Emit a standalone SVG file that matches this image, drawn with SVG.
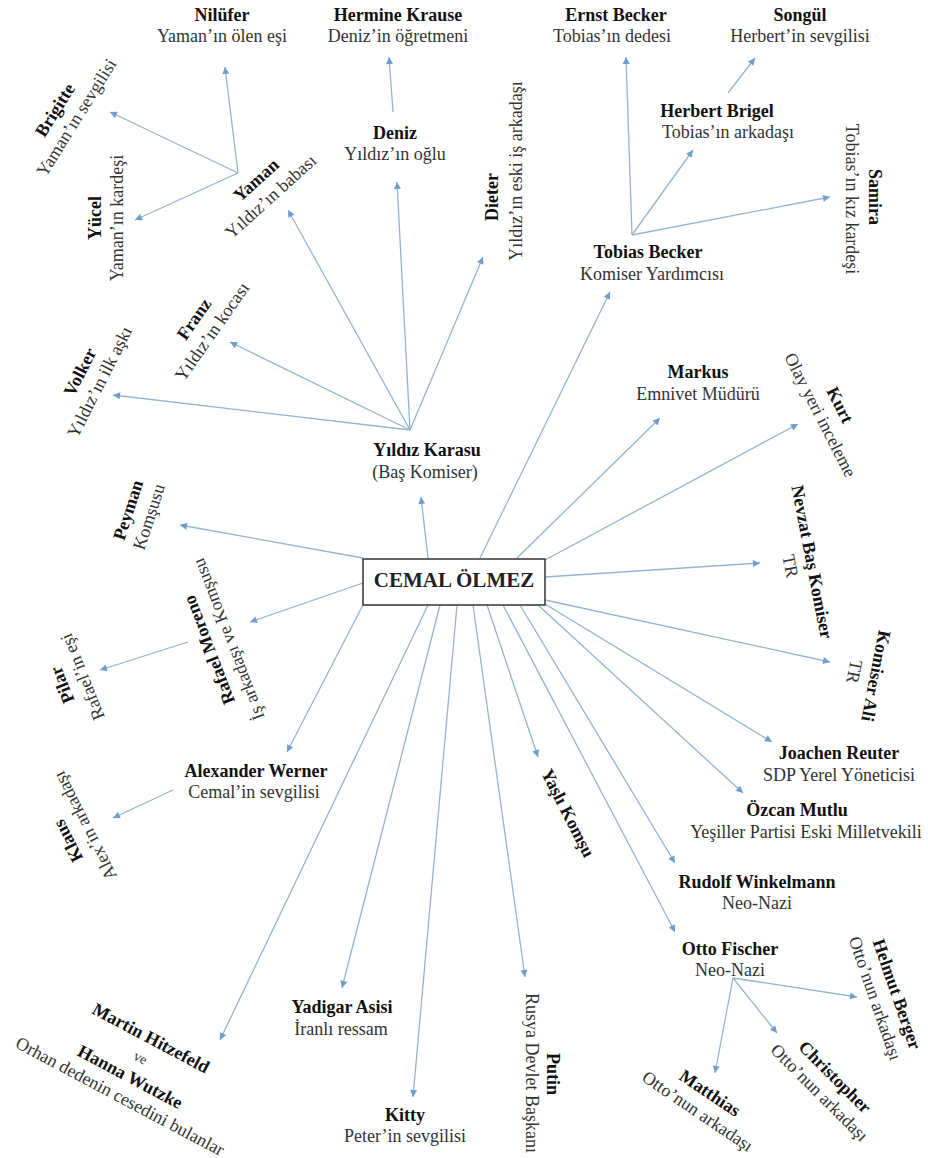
<svg xmlns="http://www.w3.org/2000/svg" width="928" height="1158" viewBox="0 0 928 1158">
<style>
text{font-family:"Liberation Serif","Times New Roman",serif;font-size:18px;text-anchor:middle}
.b{font-weight:bold;fill:#111}
.s{fill:#333}
.c{font-weight:bold;font-size:21px;fill:#222}
#connectors line{stroke:#95b4cf;stroke-width:1.3;marker-end:url(#ah)}
</style>
<defs>
<marker id="ah" viewBox="0 0 10 10" refX="10" refY="5" markerWidth="9" markerHeight="7" markerUnits="userSpaceOnUse" orient="auto">
<path d="M0,0 L10,5 L0,10 z" fill="#6e9ecb"/>
</marker>
</defs>
<rect width="928" height="1158" fill="#fff"/>
<g id="connectors">
<line x1="428" y1="558" x2="421" y2="497"/>
<line x1="480" y1="558" x2="610" y2="292"/>
<line x1="517" y1="558" x2="660" y2="418"/>
<line x1="545" y1="560" x2="798" y2="424"/>
<line x1="545" y1="577" x2="760" y2="563"/>
<line x1="545" y1="600" x2="830" y2="662"/>
<line x1="545" y1="604" x2="772" y2="742"/>
<line x1="538" y1="605" x2="743" y2="793"/>
<line x1="520" y1="605" x2="675" y2="863"/>
<line x1="503" y1="605" x2="675" y2="932"/>
<line x1="487" y1="605" x2="538" y2="757"/>
<line x1="473" y1="605" x2="525" y2="977"/>
<line x1="457" y1="605" x2="413" y2="1097"/>
<line x1="440" y1="605" x2="342" y2="988"/>
<line x1="428" y1="605" x2="220" y2="1040"/>
<line x1="363" y1="605" x2="287" y2="752"/>
<line x1="363" y1="583" x2="250" y2="622"/>
<line x1="363" y1="558" x2="180" y2="525"/>
<line x1="410" y1="430" x2="113" y2="395"/>
<line x1="410" y1="430" x2="230" y2="342"/>
<line x1="410" y1="430" x2="288" y2="210"/>
<line x1="410" y1="430" x2="397" y2="182"/>
<line x1="410" y1="430" x2="483" y2="257"/>
<line x1="393" y1="112" x2="389" y2="57"/>
<line x1="238" y1="173" x2="225" y2="67"/>
<line x1="238" y1="173" x2="110" y2="112"/>
<line x1="238" y1="173" x2="135" y2="220"/>
<line x1="632" y1="235" x2="626" y2="57"/>
<line x1="632" y1="235" x2="693" y2="150"/>
<line x1="632" y1="235" x2="830" y2="197"/>
<line x1="728" y1="93" x2="755" y2="58"/>
<line x1="173" y1="790" x2="113" y2="818"/>
<line x1="188" y1="642" x2="100" y2="670"/>
<line x1="733" y1="978" x2="857" y2="997"/>
<line x1="733" y1="978" x2="777" y2="1033"/>
<line x1="733" y1="978" x2="715" y2="1073"/>
</g>
<g id="cemal"><rect x="363" y="559" width="182" height="46" fill="#fff" stroke="#333" stroke-width="1.5"/><text class="c" x="454" y="587">CEMAL ÖLMEZ</text></g>
<g id="yildiz"><text class="b" x="427" y="456">Yıldız Karasu</text><text class="s" x="425" y="478">(Baş Komiser)</text></g>
<g id="nilufer"><text class="b" x="222" y="21">Nilüfer</text><text class="s" x="222" y="42">Yaman’ın ölen eşi</text></g>
<g id="hermine"><text class="b" x="398" y="21">Hermine Krause</text><text class="s" x="398" y="42">Deniz’in öğretmeni</text></g>
<g id="ernst"><text class="b" x="616" y="21">Ernst Becker</text><text class="s" x="612" y="42">Tobias’ın dedesi</text></g>
<g id="songul"><text class="b" x="800" y="21">Songül</text><text class="s" x="800" y="42">Herbert’in sevgilisi</text></g>
<g id="herbert"><text class="b" x="717" y="117">Herbert Brigel</text><text class="s" x="728" y="138">Tobias’ın arkadaşı</text></g>
<g id="deniz"><text class="b" x="395" y="139">Deniz</text><text class="s" x="395" y="160">Yıldız’ın oğlu</text></g>
<g id="tobias"><text class="b" x="648" y="258">Tobias Becker</text><text class="s" x="652" y="280">Komiser Yardımcısı</text></g>
<g id="markus"><text class="b" x="698" y="378">Markus</text><text class="s" x="698" y="400">Emnivet Müdürü</text></g>
<g id="joachen"><text class="b" x="839" y="759">Joachen Reuter</text><text class="s" x="839" y="781">SDP Yerel Yöneticisi</text></g>
<g id="ozcan"><text class="b" x="797" y="816">Özcan Mutlu</text><text class="s" x="806" y="838">Yeşiller Partisi Eski Milletvekili</text></g>
<g id="rudolf"><text class="b" x="757" y="888">Rudolf Winkelmann</text><text class="s" x="757" y="909">Neo-Nazi</text></g>
<g id="otto"><text class="b" x="730" y="955">Otto Fischer</text><text class="s" x="730" y="976">Neo-Nazi</text></g>
<g id="alexander"><text class="b" x="256" y="777">Alexander Werner</text><text class="s" x="254" y="798">Cemal’in sevgilisi</text></g>
<g id="yadigar"><text class="b" x="342" y="1013">Yadigar Asisi</text><text class="s" x="341" y="1035">İranlı ressam</text></g>
<g id="kitty"><text class="b" x="405" y="1121">Kitty</text><text class="s" x="405" y="1142">Peter’in sevgilisi</text></g>
<g id="dieter" transform="translate(492,197) rotate(-90)"><text class="b" x="0" y="6">Dieter</text><text class="s" x="26" y="30">Yıldız’ın eski iş arkadaşı</text></g>
<g id="yucel" transform="translate(95,218) rotate(-90)"><text class="b" x="0" y="6">Yücel</text><text class="s" x="0" y="28">Yaman’ın kardeşi</text></g>
<g id="samira" transform="translate(875,197) rotate(90)"><text class="b" x="0" y="6">Samira</text><text class="s" x="2" y="29">Tobias’ın kız kardeşi</text></g>
<g id="putin" transform="translate(553,1074) rotate(90)"><text class="b" x="0" y="6">Putin</text><text class="s" x="-1" y="27">Rusya Devlet Başkanı</text></g>
<g id="volker" transform="translate(80,372) rotate(-63)"><text class="b" x="0" y="6">Volker</text><text class="s" x="0" y="28">Yıldız’ın ilk aşkı</text></g>
<g id="franz" transform="translate(194,319) rotate(-55)"><text class="b" x="0" y="6">Franz</text><text class="s" x="0" y="28">Yıldız’ın kocası</text></g>
<g id="yaman" transform="translate(256,180) rotate(-42)"><text class="b" x="0" y="6">Yaman</text><text class="s" x="0" y="28">Yıldız’ın babası</text></g>
<g id="brigitte" transform="translate(55,110) rotate(-58)"><text class="b" x="0" y="6">Brigitte</text><text class="s" x="5" y="28">Yaman’ın sevgilisi</text></g>
<g id="peyman" transform="translate(128,510) rotate(-72)"><text class="b" x="0" y="6">Peyman</text><text class="s" x="0" y="28">Komşusu</text></g>
<g id="rafael" transform="translate(209,650) rotate(-111)"><text class="b" x="0" y="6">Rafael Moreno</text><text class="s" x="3" y="28">İş arkadaşı ve Komşusu</text></g>
<g id="pilar" transform="translate(62,685) rotate(-112)"><text class="b" x="0" y="6">Pilar</text><text class="s" x="0" y="28">Rafael’in eşi</text></g>
<g id="klaus" transform="translate(68,841) rotate(-117)"><text class="b" x="0" y="6">Klaus</text><text class="s" x="6" y="28">Alex’in arkadaşı</text></g>
<g id="martin" transform="translate(151,1038) rotate(28)"><text class="b" x="0" y="6">Martin Hitzefeld</text><text class="s" x="0" y="27" style="font-size:14px">ve</text><text class="b" x="0" y="50">Hanna Wutzke</text><text class="s" x="0" y="72">Orhan dedenin cesedini bulanlar</text></g>
<g id="yasli" transform="translate(568,813) rotate(63)"><text class="b" x="0" y="6">Yaşlı Komşu</text></g>
<g id="nevzat" transform="translate(812,562) rotate(79)"><text class="b" x="0" y="6">Nevzat Baş Komiser</text><text class="s" x="0" y="28">TR</text></g>
<g id="kurt" transform="translate(840,405) rotate(63)"><text class="b" x="0" y="6">Kurt</text><text class="s" x="0" y="28">Olay yeri inceleme</text></g>
<g id="ali" transform="translate(876,676) rotate(101)"><text class="b" x="0" y="6">Komiser Ali</text><text class="s" x="0" y="28">TR</text></g>
<g id="helmut" transform="translate(897,994) rotate(71)"><text class="b" x="0" y="6">Helmut Berger</text><text class="s" x="-3" y="28">Otto’nun arkadaşı</text></g>
<g id="christopher" transform="translate(835,1077) rotate(45)"><text class="b" x="0" y="6">Christopher</text><text class="s" x="0" y="28">Otto’nun arkadaşı</text></g>
<g id="matthias" transform="translate(710,1093) rotate(34)"><text class="b" x="0" y="6">Matthias</text><text class="s" x="0" y="28">Otto’nun arkadaşı</text></g>
</svg>
